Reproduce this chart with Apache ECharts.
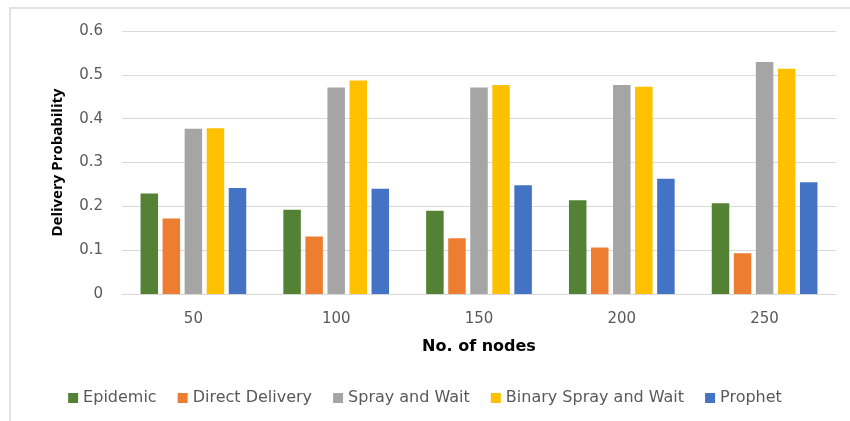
<!DOCTYPE html>
<html><head><meta charset="utf-8">
<script src="https://cdn.jsdelivr.net/npm/echarts@6/dist/echarts.min.js"></script>
<style>html,body{margin:0;padding:0;background:#fff}#c{width:850px;height:421px}</style>
</head><body><div id="c"></div>
<script>
const categories = ['50','100','150','200','250'];
const seriesNames = ['Epidemic','Direct Delivery','Spray and Wait','Binary Spray and Wait','Prophet'];
const epidemic = [0.229, 0.192, 0.190, 0.214, 0.207];
const directDelivery = [0.172, 0.131, 0.127, 0.106, 0.093];
const sprayAndWait = [0.377, 0.471, 0.471, 0.477, 0.529];
const binarySprayAndWait = [0.378, 0.487, 0.477, 0.473, 0.514];
const prophet = [0.242, 0.240, 0.248, 0.263, 0.255];
const colors = ['#548235','#ED7D31','#A5A5A5','#FFC000','#4472C4'];
const values = [epidemic, directDelivery, sprayAndWait, binarySprayAndWait, prophet];

const font = 'DejaVu Sans';
const chart = echarts.init(document.getElementById('c'));
chart.setOption({
  animation: false,
  color: colors,
  graphic: [{type:'rect', shape:{x:10,y:8,width:860,height:440}, style:{fill:'none', stroke:'#d9d9d9', lineWidth:1.5}, silent:true}],
  grid: {left:122, right:14, top:31, bottom:127},
  legend: {
    data: seriesNames, bottom: 10, left: 'center', itemWidth: 10, itemHeight: 10, itemGap: 21,
    icon: 'rect',
    textStyle: {fontFamily: font, fontSize: 16, color:'#595959'}
  },
  xAxis: {
    type:'category', data: categories,
    axisLine:{lineStyle:{color:'#d9d9d9'}}, axisTick:{show:false},
    axisLabel:{fontFamily:font, fontSize:15, color:'#595959', margin:18},
    name:'No. of nodes', nameLocation:'middle', nameGap:45,
    nameTextStyle:{fontFamily:font, fontSize:16, fontWeight:'bold', color:'#000'}
  },
  yAxis: {
    type:'value', min:0, max:0.6, interval:0.1,
    axisLine:{show:false}, axisTick:{show:false},
    splitLine:{lineStyle:{color:'#d9d9d9'}},
    axisLabel:{fontFamily:font, fontSize:15, color:'#595959', margin:19},
    name:'Delivery Probability', nameLocation:'middle', nameGap:57, nameRotate:90,
    nameTextStyle:{fontFamily:'Open Sans', fontSize:15, fontWeight:'bold', color:'#000'}
  },
  series: seriesNames.map((n,i)=>({
    name:n, type:'bar', data: values[i], barWidth: 17.5, barGap:'26%'
  }))
});
</script></body></html>
